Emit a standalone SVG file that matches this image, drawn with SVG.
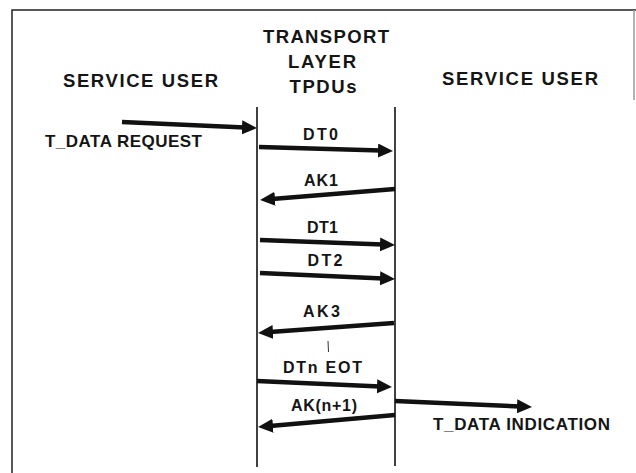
<svg xmlns="http://www.w3.org/2000/svg" width="636" height="473" viewBox="0 0 636 473">
  <style>
    text { font-family: "Liberation Sans", Arial, sans-serif; font-weight: bold; fill: #151515; text-anchor: middle; }
    .head { font-size: 18.5px; }
    .side { font-size: 17px; }
    .msg { font-size: 16px; }
    .frame { stroke: #222; stroke-width: 1.5; fill: none; }
    .life { stroke: #111; stroke-width: 1.6; fill: none; }
    .arrow { stroke: #111; stroke-width: 4.5; fill: none; marker-end: url(#head); }
  </style>
  <defs>
    <marker id="head" markerUnits="userSpaceOnUse" markerWidth="18" markerHeight="16" refX="3" refY="7" orient="auto">
      <path d="M0,0 L15,7 L0,14 z" fill="#111"/>
    </marker>
  </defs>
  <rect width="636" height="473" fill="#fff"/>

  <!-- outer frame -->
  <path class="frame" d="M12,473 L12,10 L636,10"/>
  <path d="M634,10 L634,100" stroke="#999" stroke-width="1.5" fill="none"/>

  <g id="service-user-left">
    <text class="head" x="140.5" y="87" textLength="155" lengthAdjust="spacing">SERVICE USER</text>
  </g>

  <g id="transport-layer">
    <text class="head" x="326" y="43" textLength="126" lengthAdjust="spacing">TRANSPORT</text>
    <text class="head" x="322" y="68" textLength="68" lengthAdjust="spacing">LAYER</text>
    <text class="head" x="323" y="93" textLength="67" lengthAdjust="spacing">TPDUs</text>
    <line class="life" x1="257" y1="107" x2="257" y2="467"/>
    <line class="life" x1="395" y1="107" x2="395" y2="466"/>
  </g>

  <g id="service-user-right">
    <text class="head" x="520" y="85" textLength="156" lengthAdjust="spacing">SERVICE USER</text>
  </g>

  <g id="connectors">
    <line class="arrow" x1="122" y1="122" x2="245" y2="127.5"/>
    <text class="side" x="123.5" y="147" textLength="157" lengthAdjust="spacing">T_DATA REQUEST</text>

    <line class="arrow" x1="259" y1="147" x2="381" y2="150.6"/>
    <text class="msg" x="320.5" y="140" textLength="35" lengthAdjust="spacing">DT0</text>

    <line class="arrow" x1="395" y1="189" x2="272" y2="199"/>
    <text class="msg" x="321" y="186" textLength="34" lengthAdjust="spacing">AK1</text>

    <line class="arrow" x1="260" y1="240" x2="383" y2="244.6"/>
    <text class="msg" x="322.5" y="233" textLength="31" lengthAdjust="spacing">DT1</text>

    <line class="arrow" x1="260" y1="273" x2="383" y2="278.5"/>
    <text class="msg" x="325" y="266" textLength="35" lengthAdjust="spacing">DT2</text>

    <line class="arrow" x1="394" y1="323" x2="270" y2="332.1"/>
    <text class="msg" x="321.5" y="317" textLength="37" lengthAdjust="spacing">AK3</text>

    <line x1="328" y1="341" x2="328.5" y2="352" stroke="#333" stroke-width="1"/>

    <line class="arrow" x1="257" y1="381" x2="380" y2="386.5"/>
    <text class="msg" x="322.5" y="373" textLength="79" lengthAdjust="spacing">DTn EOT</text>

    <line class="arrow" x1="395" y1="415" x2="270" y2="426"/>
    <text class="msg" x="324" y="411" textLength="66" lengthAdjust="spacing">AK(n+1)</text>

    <line class="arrow" x1="395" y1="401" x2="520" y2="406.5"/>
    <text class="side" x="521.5" y="430" textLength="177" lengthAdjust="spacing">T_DATA INDICATION</text>
  </g>
</svg>
